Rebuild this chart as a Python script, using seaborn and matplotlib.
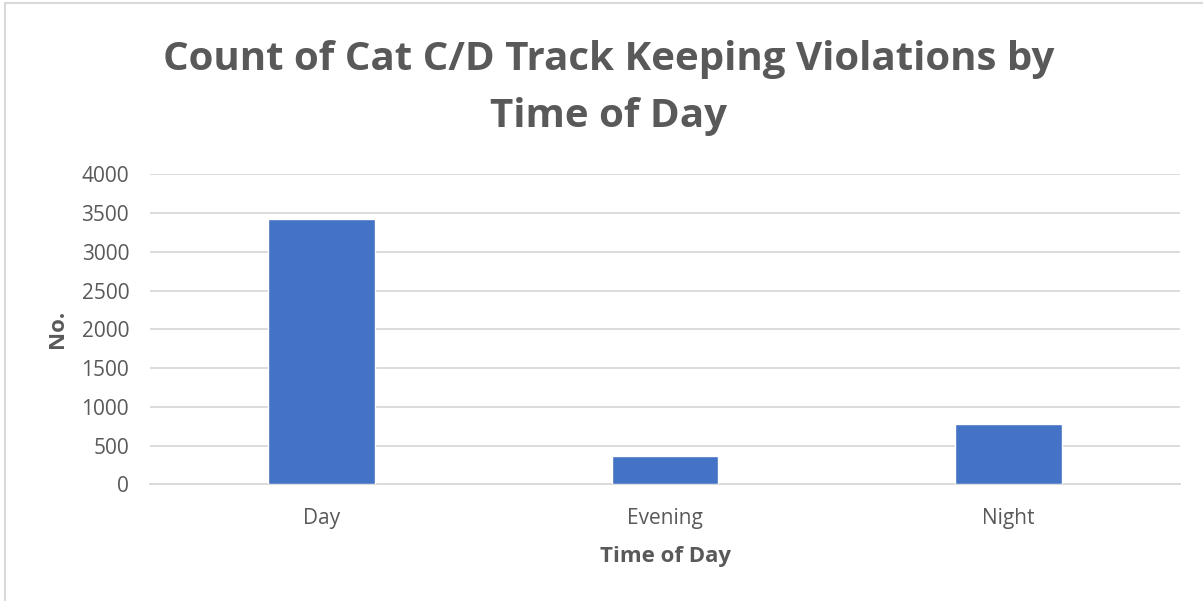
import matplotlib
matplotlib.use("Agg")
import matplotlib.pyplot as plt
import seaborn as sns
import pandas as pd
from matplotlib.patches import Rectangle

# values
time_of_day = ["Day", "Evening", "Night"]
violation_counts = [3420, 372, 773]
y_ticks = [0, 500, 1000, 1500, 2000, 2500, 3000, 3500, 4000]

text_color = "#595959"
grid_color = "#D9D9D9"
bar_color = "#4472C4"

sns.set_theme(style="white")
plt.rcParams["font.family"] = ["Open Sans", "DejaVu Sans"]

df = pd.DataFrame({"Time of Day": time_of_day, "No.": violation_counts})

fig = plt.figure(figsize=(12.03, 6.01), dpi=100)
ax = fig.add_axes([0.1247, 0.194, 0.981 - 0.1247, 0.710 - 0.194])

sns.barplot(data=df, x="Time of Day", y="No.", color=bar_color,
            width=0.31, saturation=1, ax=ax, zorder=3)

ax.set_ylim(0, 4000)
ax.set_yticks(y_ticks)
ax.yaxis.grid(True, color=grid_color, linewidth=1.3, zorder=0)
ax.xaxis.grid(False)
for side in ["left", "right", "top"]:
    ax.spines[side].set_visible(False)
ax.spines["bottom"].set_color(grid_color)
ax.spines["bottom"].set_linewidth(1.3)
ax.tick_params(axis="both", length=0, labelsize=15, labelcolor=text_color)
ax.tick_params(axis="y", pad=15)
ax.tick_params(axis="x", pad=17)

ax.set_xlabel("Time of Day", fontsize=16, fontweight="bold", color=text_color, labelpad=12)
ax.set_ylabel("No.", fontsize=16, fontweight="bold", color=text_color, labelpad=10)

fig.text(0.506, 0.854, "Count of Cat C/D Track Keeping Violations by\nTime of Day",
         ha="center", va="center", fontsize=29, fontweight="bold",
         color=text_color, linespacing=1.6)

# chart frame like the spreadsheet export
fig.patches.append(Rectangle((0.004, -0.01), 1.1, 1.0045, transform=fig.transFigure,
                             fill=False, edgecolor=grid_color, linewidth=1.5))

fig.savefig("out.png", dpi=100)
